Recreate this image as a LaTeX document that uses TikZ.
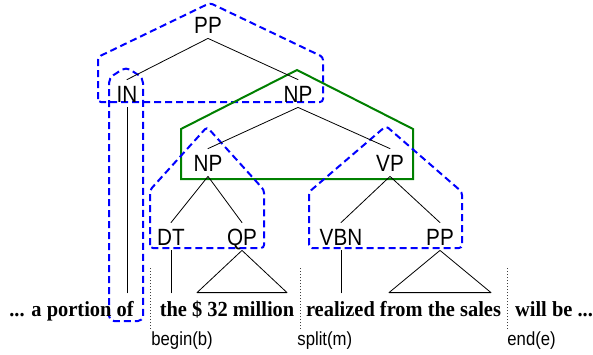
\documentclass[tikz,border=0pt]{standalone}
\usepackage{fontspec}
\setmainfont[FakeStretch=0.95]{Liberation Serif}
\newfontfamily\labelfont[FakeStretch=0.88]{Liberation Sans}
\definecolor{boxblue}{rgb}{0,0,1}
\definecolor{boxgreen}{rgb}{0,0.5,0}
\begin{document}
\begin{tikzpicture}[x=1pt, y=-1pt, line width=0.8pt, line join=round, line cap=round,
		cat/.style={font=\labelfont\fontsize{23.5}{23.5}\selectfont, anchor=base, inner xsep=1pt, inner ysep=5pt, text height=17pt, text depth=0pt},
		wordseg/.style={font=\bfseries\fontsize{21.5}{21.5}\selectfont, anchor=base, inner xsep=0pt, inner ysep=7pt, text height=16pt, text depth=4pt},
		bndlabel/.style={font=\labelfont\fontsize{19}{19}\selectfont, anchor=base west, inner sep=0pt},
		dashbox/.style={boxblue, line width=2pt, line cap=butt, dash pattern=on 7pt off 4pt, rounded corners=3pt},
		solidbox/.style={boxgreen, line width=2pt, line join=miter},
		sep/.style={black!75, line width=0.9pt, line cap=butt, dash pattern=on 1.5pt off 1.5pt}]
	\useasboundingbox (0,0) rectangle (593,354);
	\draw[dashbox] (98,102) -- (98,57) -- (210,3) -- (323,57) -- (323,102) -- cycle;
	\draw[dashbox, rounded corners=5pt] (109,321) -- (109,78) -- (126,67) -- (143,78) -- (143,321) -- cycle;
	\draw[solidbox] (181,179) -- (181,129) -- (297,70) -- (413,129) -- (413,179) -- cycle;
	\draw[dashbox] (150,248) -- (150,190) -- (207,127) -- (264,190) -- (264,248) -- cycle;
	\draw[dashbox] (309,248) -- (309,192) -- (386,126) -- (462,192) -- (462,248) -- cycle;
	\node[cat] (pp) at (208,33) {PP};
	\node[cat] (in) at (127,102) {IN};
	\node[cat] (np) at (298,102) {NP};
	\node[cat] (npb) at (208,171) {NP};
	\node[cat] (vp) at (390,171) {VP};
	\node[cat] (dt) at (171,245) {DT};
	\node[cat] (qp) at (242,245) {QP};
	\node[cat] (vbn) at (341,245) {VBN};
	\node[cat] (ppb) at (440,245) {PP};
	\node[wordseg] (w1) at (71.5,316) {... a portion of};
	\node[wordseg] (w2) at (227,316) {the \$ 32 million};
	\node[wordseg] (w3) at (403.5,316) {realized from the sales};
	\node[wordseg] (w4) at (554,316) {will be ...};
	\draw (pp.south) -- (in.north) (pp.south) -- (np.north);
	\draw (np.south) -- (npb.north) (np.south) -- (vp.north);
	\draw (npb.south) -- (dt.north) (npb.south) -- (qp.north);
	\draw (vp.south) -- (vbn.north) (vp.south) -- (ppb.north);
	\draw (in.south) -- (in.south |- w1.north);
	\draw (dt.south) -- (dt.south |- w2.north);
	\draw (vbn.south) -- (vbn.south |- w3.north);
	\draw (qp.south) -- ([xshift=-45pt]qp.south |- w2.north) -- ([xshift=45pt]qp.south |- w2.north) -- cycle;
	\draw (ppb.south) -- ([xshift=-51pt]ppb.south |- w3.north) -- ([xshift=51pt]ppb.south |- w3.north) -- cycle;
	\coordinate (b) at (150,329);
	\coordinate (m) at (300,329);
	\coordinate (e) at (507,329);
	\draw[sep] (b) -- ++(0,-62);
	\draw[sep] (m) -- ++(0,-62);
	\draw[sep] (e) -- ++(0,-62);
	\node[bndlabel] (lb) at (151,345) {begin(b)};
	\node[bndlabel] (lm) at (297,345) {split(m)};
	\node[bndlabel] (le) at (507,345) {end(e)};
\end{tikzpicture}
\end{document}
